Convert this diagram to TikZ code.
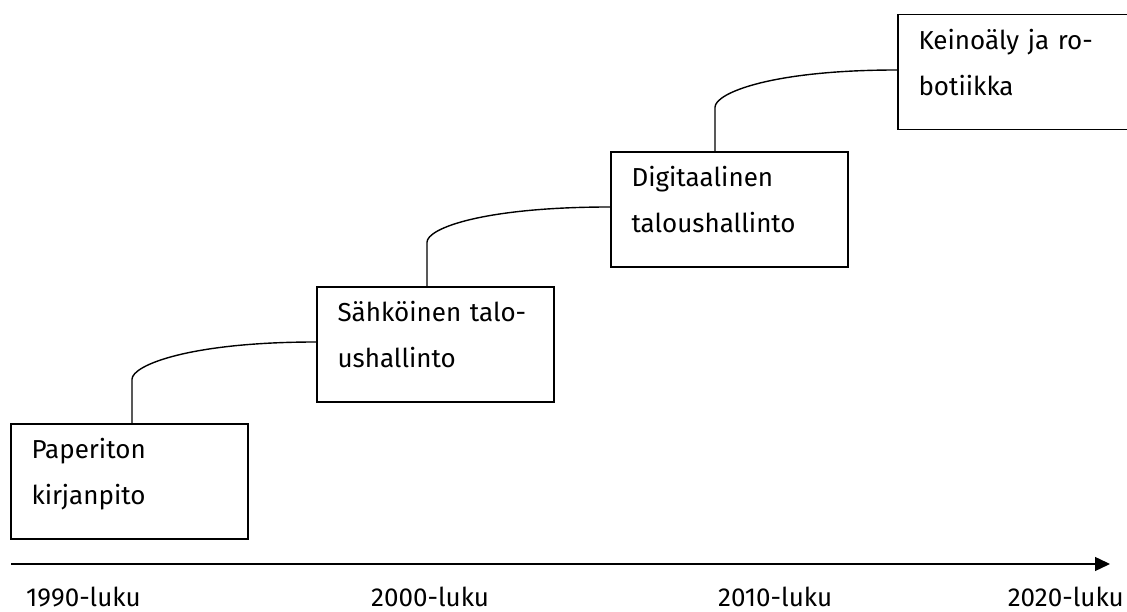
\documentclass[tikz,border=0pt]{standalone}
\usepackage{fontspec}
\setmainfont{Fira Sans}
\usetikzlibrary{arrows.meta}

\begin{document}
\begin{tikzpicture}[x=1pt, y=1pt,
      every node/.style={font=\fontsize{26}{46}\selectfont},
      era/.style={draw, line width=1.4pt, rectangle,
        minimum width=237pt, minimum height=115pt, inner sep=0pt,
        text width=196pt, align=left, text height=21pt, text depth=66pt},
      link/.style={line width=1.4pt},
      decade/.style={inner sep=0pt}]

    \useasboundingbox (0,0) rectangle (1127,612);

    % vaiheet
    \node[era] (b1) at (129.5,130.5) {Paperiton\\kirjanpito};
    \node[era] (b2) at (435.5,267.5) {Sähköinen talo-\\ushallinto};
    \node[era] (b3) at (729.5,402.5) {Digitaalinen\\taloushallinto};
    \node[era] (b4) at (1016.5,540) {Keinoäly ja ro-\\botiikka};

    % kaarevat yhdysviivat
    \draw[link] ([xshift=2.5pt]b1.north) -- ++(0,44)
      .. controls +(0,14) and +(-127,0) .. ([yshift=2.5pt]b2.west);
    \draw[link] ([xshift=-8.5pt]b2.north) -- ++(0,44)
      .. controls +(0,14) and +(-127,0) .. ([yshift=2.5pt]b3.west);
    \draw[link] ([xshift=-14.5pt]b3.north) -- ++(0,44)
      .. controls +(0,14) and +(-127,0) .. ([yshift=2pt]b4.west);

    % aikajana
    \coordinate (t0) at (11,48);
    \coordinate (t1) at (1110,48);
    \draw[link, -{Triangle[length=15pt, width=14pt]}] (t0) -- (t1);

    \foreach \x/\v in {26/1990, 371/2000, 718/2010} {
      \node[decade, anchor=base west] (y\v) at (\x,5) {\v-luku};
    }
    \node[decade, anchor=base east] (y2020) at (1124,5) {2020-luku};
  \end{tikzpicture}
\end{document}
